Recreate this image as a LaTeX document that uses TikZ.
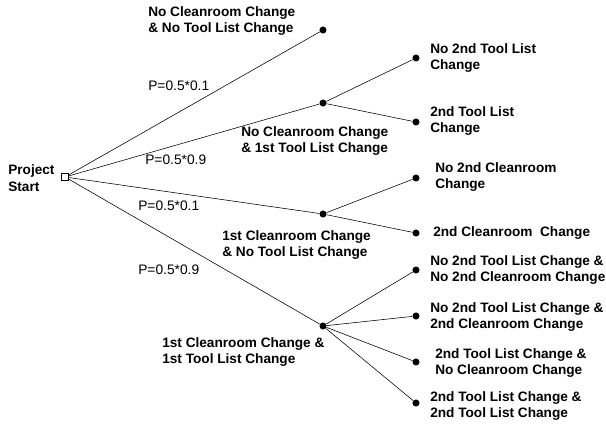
\documentclass[tikz,border=0pt]{standalone}
\usepackage{fontspec}
\setmainfont{Liberation Sans}
\usepackage{tikz}

\tikzset{
  leaf/.style={circle, fill=black, inner sep=0pt, minimum size=5pt},
  lbl/.style={font=\fontsize{9.7}{12}\selectfont\bfseries, align=left, anchor=west, inner sep=0pt},
  prob/.style={font=\fontsize{9.8}{12}\selectfont, anchor=west, inner sep=0pt}
}

\begin{document}
\begin{tikzpicture}[x=0.025cm, y=-0.025cm]

    % Page size
    \useasboundingbox (0,0) rectangle (606,423);

    % Start and first level decision points
    \node[draw, rectangle, inner sep=0pt, minimum size=5pt] (S) at (65,177) {};
    \node[leaf] (A) at (323,30) {};
    \node[leaf] (B) at (323,103) {};
    \node[leaf] (C) at (323,214) {};
    \node[leaf] (D) at (323,326) {};

    % Second level outcomes
    \node[leaf] (B1) at (416,58) {};
    \node[leaf] (B2) at (416,122) {};
    \node[leaf] (C1) at (416,178) {};
    \node[leaf] (C2) at (416,233) {};
    \node[leaf] (D1) at (416,270) {};
    \node[leaf] (D2) at (416,316) {};
    \node[leaf] (D3) at (416,362) {};
    \node[leaf] (D4) at (416,403) {};

    % Branches
    \draw (S) -- (A);
    \draw (S) -- (B);
    \draw (S) -- (C);
    \draw (S) -- (D);
    \draw (B) -- (B1);
    \draw (B) -- (B2);
    \draw (C) -- (C1);
    \draw (C) -- (C2);
    \draw (D) -- (D1);
    \draw (D) -- (D2);
    \draw (D) -- (D3);
    \draw (D) -- (D4);

    % Start label
    \node[lbl] (tS) at (8,178) {Project\\Start};

    % Probabilities
    \node[prob] (p1) at (148,86) {P=0.5*0.1};
    \node[prob] (p2) at (145,160) {P=0.5*0.9};
    \node[prob] (p3) at (138,206) {P=0.5*0.1};
    \node[prob] (p4) at (138,270) {P=0.5*0.9};

    % First level labels
    \node[lbl] (tA) at (148,21) {No Cleanroom Change\\\& No Tool List Change};
    \node[lbl] (tB) at (241,141) {No Cleanroom Change\\\& 1st Tool List Change};
    \node[lbl] (tC) at (222,245) {1st Cleanroom Change\\\& No Tool List Change};
    \node[lbl] (tD) at (162,352) {1st Cleanroom Change \&\\1st Tool List Change};

    % Second level labels
    \node[lbl] (tB1) at (430,58) {No 2nd Tool List\\Change};
    \node[lbl] (tB2) at (430,121) {2nd Tool List\\Change};
    \node[lbl] (tC1) at (435,177) {No 2nd Cleanroom\\Change};
    \node[lbl] (tC2) at (433,233) {2nd Cleanroom\ \ Change};
    \node[lbl] (tD1) at (430,270) {No 2nd Tool List Change \&\\No 2nd Cleanroom Change};
    \node[lbl] (tD2) at (430,317) {No 2nd Tool List Change \&\\2nd Cleanroom Change};
    \node[lbl] (tD3) at (435,363) {2nd Tool List Change \&\\No Cleanroom Change};
    \node[lbl] (tD4) at (430,406) {2nd Tool List Change \&\\2nd Tool List Change};

\end{tikzpicture}
\end{document}
